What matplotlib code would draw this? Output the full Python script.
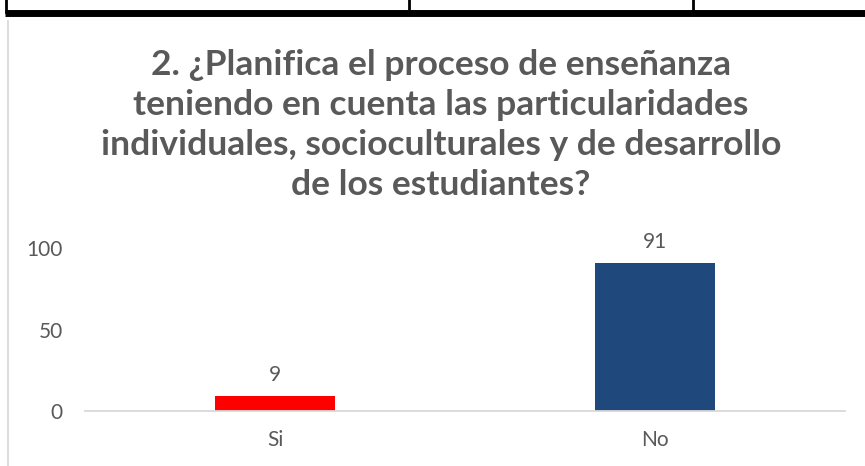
import matplotlib.pyplot as plt
from matplotlib.lines import Line2D

categories = ['Si', 'No']
values = [9, 91]
bar_colors = ['#FF0000', '#1F497D']
title = ('2. ¿Planifica el proceso de enseñanza\n'
         'teniendo en cuenta las particularidades\n'
         'individuales, socioculturales y de desarrollo\n'
         'de los estudiantes?')
yticks = [0, 50, 100]

text_color = '#595959'
plt.rcParams['font.family'] = ['Lato', 'DejaVu Sans']

W, H = 865, 466
fig = plt.figure(figsize=(W / 100, H / 100), dpi=100)
ax = fig.add_axes([85 / W, 55 / H, 760 / W, 163 / H])

x = range(len(categories))
bars = ax.bar(x, values, width=0.316, color=bar_colors)
for bar, v in zip(bars, values):
    ax.annotate(str(v), (bar.get_x() + bar.get_width() / 2, v),
                xytext=(0, 8), textcoords='offset points',
                ha='center', va='bottom', fontsize=15, color=text_color,
                annotation_clip=False)

ax.set_xlim(-0.5, 1.5)
ax.set_ylim(0, 100)
ax.set_xticks(list(x), categories)
ax.set_yticks(yticks)
ax.tick_params(length=0, labelsize=15, colors=text_color)
ax.tick_params(axis='x', pad=14)
ax.tick_params(axis='y', pad=16)
for side in ['top', 'right', 'left']:
    ax.spines[side].set_visible(False)
ax.spines['bottom'].set_color('#D9D9D9')
ax.spines['bottom'].set_linewidth(1.3)

fig.text(441 / W, 1 - 125 / H, title, ha='center', va='center',
         fontsize=25.5, fontweight='bold', color=text_color, linespacing=1.3)

# table border above the chart and chart frame on the left
def px_line(xs, ys, **kw):
    fig.add_artist(Line2D([v / W for v in xs], [1 - v / H for v in ys],
                          transform=fig.transFigure, **kw))

px_line([5, W], [13, 13], color='black', linewidth=5, solid_capstyle='butt')
for xv in [6, 409, 693]:
    px_line([xv, xv], [0, 12], color='black', linewidth=2)
px_line([8, 8], [21, H], color='#D9D9D9', linewidth=1.3)

fig.savefig('out.png', dpi=100)
